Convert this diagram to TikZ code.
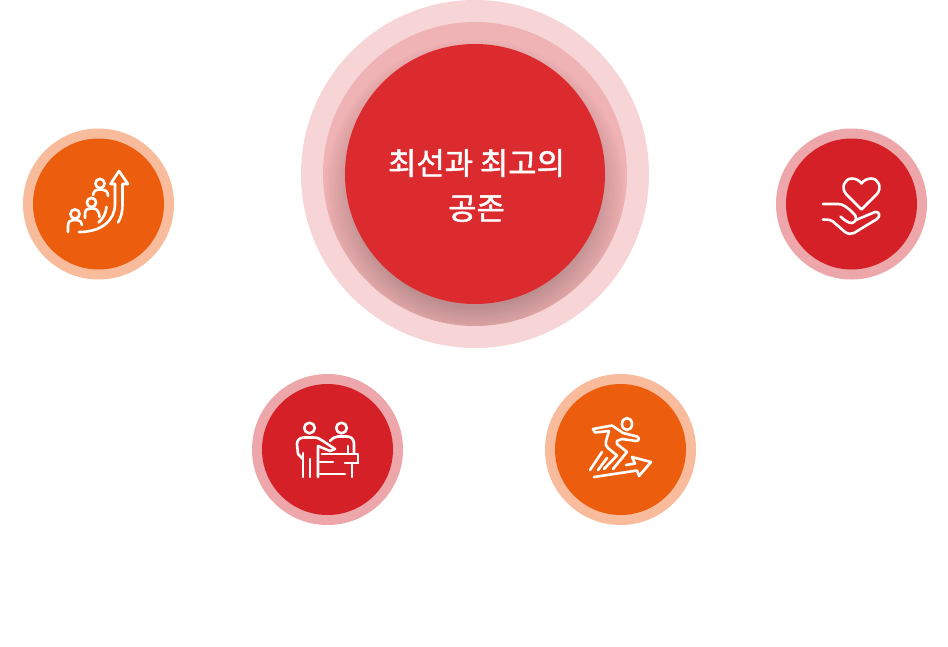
\documentclass[tikz,border=0pt]{standalone}
\usepackage{fontspec}
\newfontfamily\krfont[Script=Hangul,FakeBold=1.5]{Noto Sans CJK KR}
\usepackage{xcolor}
\definecolor{main-red}{RGB}{220,43,47}
\definecolor{mid-ring}{RGB}{240,179,181}
\definecolor{out-ring}{RGB}{247,213,214}
\definecolor{badge-orange}{RGB}{236,94,14}
\definecolor{ring-orange}{RGB}{248,187,155}
\definecolor{badge-red}{RGB}{212,32,38}
\definecolor{ring-red}{RGB}{237,167,170}
\tikzset{
	iconline/.style={draw=white,line width=2.6pt,line join=round,line cap=round},
	maintext/.style={text=white,font=\krfont\fontsize{30.8}{45}\selectfont,align=center}
}
\begin{document}
\begin{tikzpicture}[x=1pt,y=-1pt]
	\useasboundingbox (0,0) rectangle (948,646);
	\fill[white] (0,0) rectangle (948,646);
	
	% centre circle with its rings and shadow
	\fill[out-ring] (475,174) circle (174);
	\fill[mid-ring] (475,174) circle (152);
	\begin{scope}
		\clip (475,174) circle (152);
		\foreach \r in {118,120,...,150}{
			\fill[black,opacity=.011] (475,190) circle (\r);
		}
	\end{scope}
	\fill[main-red] (475,174) circle (130);
	\node[maintext] (title) at (476.5,185.5) {최선과 최고의\\공존};
	
	\foreach \x/\y/\z/\w in 
	{98.5/204/badge-orange/ring-orange,851.5/204/badge-red/ring-red,
	327.5/449.5/badge-red/ring-red,620.5/449.5/badge-orange/ring-orange}{
		\fill[\w] (\x,\y) circle (75.5);
		\fill[\z] (\x,\y) circle (65.5);
	}
	
	% people and arrow
	\foreach \x/\y/\z in {100/183.5/8,91.5/202.5/9,75/214/0}{
		\draw[iconline] (\x,\y) circle (4.6);
	}
	\draw[iconline] (93,195) .. controls (94,190.5) and (96,189.5) .. (99,189.5) -- (102,189.5)
		.. controls (105,189.5) and (108,191) .. (108,196);
	\draw[iconline] (85,218) -- (85,214) .. controls (85,210) and (87,208.5) .. (90,208.5) -- (93,208.5)
		.. controls (96,208.5) and (99,210) .. (99.5,217);
	\draw[iconline] (68,232) -- (68,226) .. controls (68,222) and (70,220) .. (73,220) -- (77,220)
		.. controls (80,220) and (82,222) .. (82,225);
	\draw[iconline] (115,184) -- (110.5,184) -- (119,171) -- (128,184) -- (122.5,184) -- (122.5,204)
		.. controls (122.5,212) and (121,218) .. (118,222.5);
	\draw[iconline] (115,184) -- (115,204)
		.. controls (115,220) and (102,232) .. (79,232);
	\draw[iconline] (106.5,207) .. controls (106,213) and (103,219) .. (98.5,222.5);
	
	% heart and hand
	\draw[iconline] (861.5,209.5) -- (846,194) .. controls (841,188) and (844,178.5) .. (852,178.5)
		.. controls (856,178.5) and (860,181) .. (861.5,183.5)
		.. controls (863,181) and (867,178.5) .. (871,178.5)
		.. controls (879,178.5) and (882,188) .. (877,194) -- cycle;
	\draw[iconline] (823,204) -- (838,204) .. controls (843,204) and (846,207) .. (850,210)
		-- (855,215) .. controls (857,218) and (856,222) .. (852,223)
		.. controls (849,223.5) and (844,220) .. (840.5,216.5);
	\draw[iconline] (856,220) -- (875,212) .. controls (879,211) and (881,216) .. (877,219)
		-- (854,233) .. controls (851,234.5) and (848,234) .. (845,232)
		-- (833,221.5) .. controls (831,220) and (829,219.5) .. (823,219.5);
	
	% two people at the desk
	\foreach \x/\y/\z in {309.5/428/0,341.5/428/0}{
		\draw[iconline] (\x,\y) circle (5.3);
	}
	\draw[iconline] (303,459) -- (298,454) -- (297,444) .. controls (297,440) and (300,437.5) .. (304,437.5)
		-- (314,437.5) .. controls (318,437.5) and (320,439) .. (323,441) -- (335,449)
		-- (330,451) -- (318,446) -- (318,477);
	\draw[iconline] (303,453) -- (303,477);
	\draw[iconline] (310,459) -- (310,477);
	\draw[iconline] (330,441) .. controls (333,438) and (335,436.5) .. (338,436.5) -- (347,436.5)
		.. controls (351,436.5) and (354,439) .. (354,444) -- (354,453);
	\draw[iconline] (348,446) -- (348,453);
	\draw[iconline] (322,454) -- (358,454) -- (358,463) -- (352,463) -- (352,477);
	\draw[iconline] (345,463) -- (358,463);
	\draw[iconline] (320,462) -- (333,462);
	\draw[iconline] (320,474) -- (345,474);
	
	% runner and arrow
	\draw[iconline] (627,424) ellipse (5 and 6);
	\draw[iconline] (593,429) -- (595,432.5) -- (609,431) -- (606,441) .. controls (605,444) and (606,446) .. (608,448)
		-- (617,455.5) -- (604,469);
	\draw[iconline] (593,429) -- (612,425.5) -- (623,433) -- (637,436.5) .. controls (640,438) and (639,441) .. (636,441)
		-- (622,439) -- (617,441) -- (617,444) -- (627,452) -- (613,469);
	\draw[iconline] (602,452) -- (590,470);
	\draw[iconline] (607,458) -- (598,470);
	\draw[iconline] (594,477) -- (637,470.5) -- (639,476) -- (651,462) -- (632,457) -- (635,463.5) -- (626,465);
\end{tikzpicture}
\end{document}
